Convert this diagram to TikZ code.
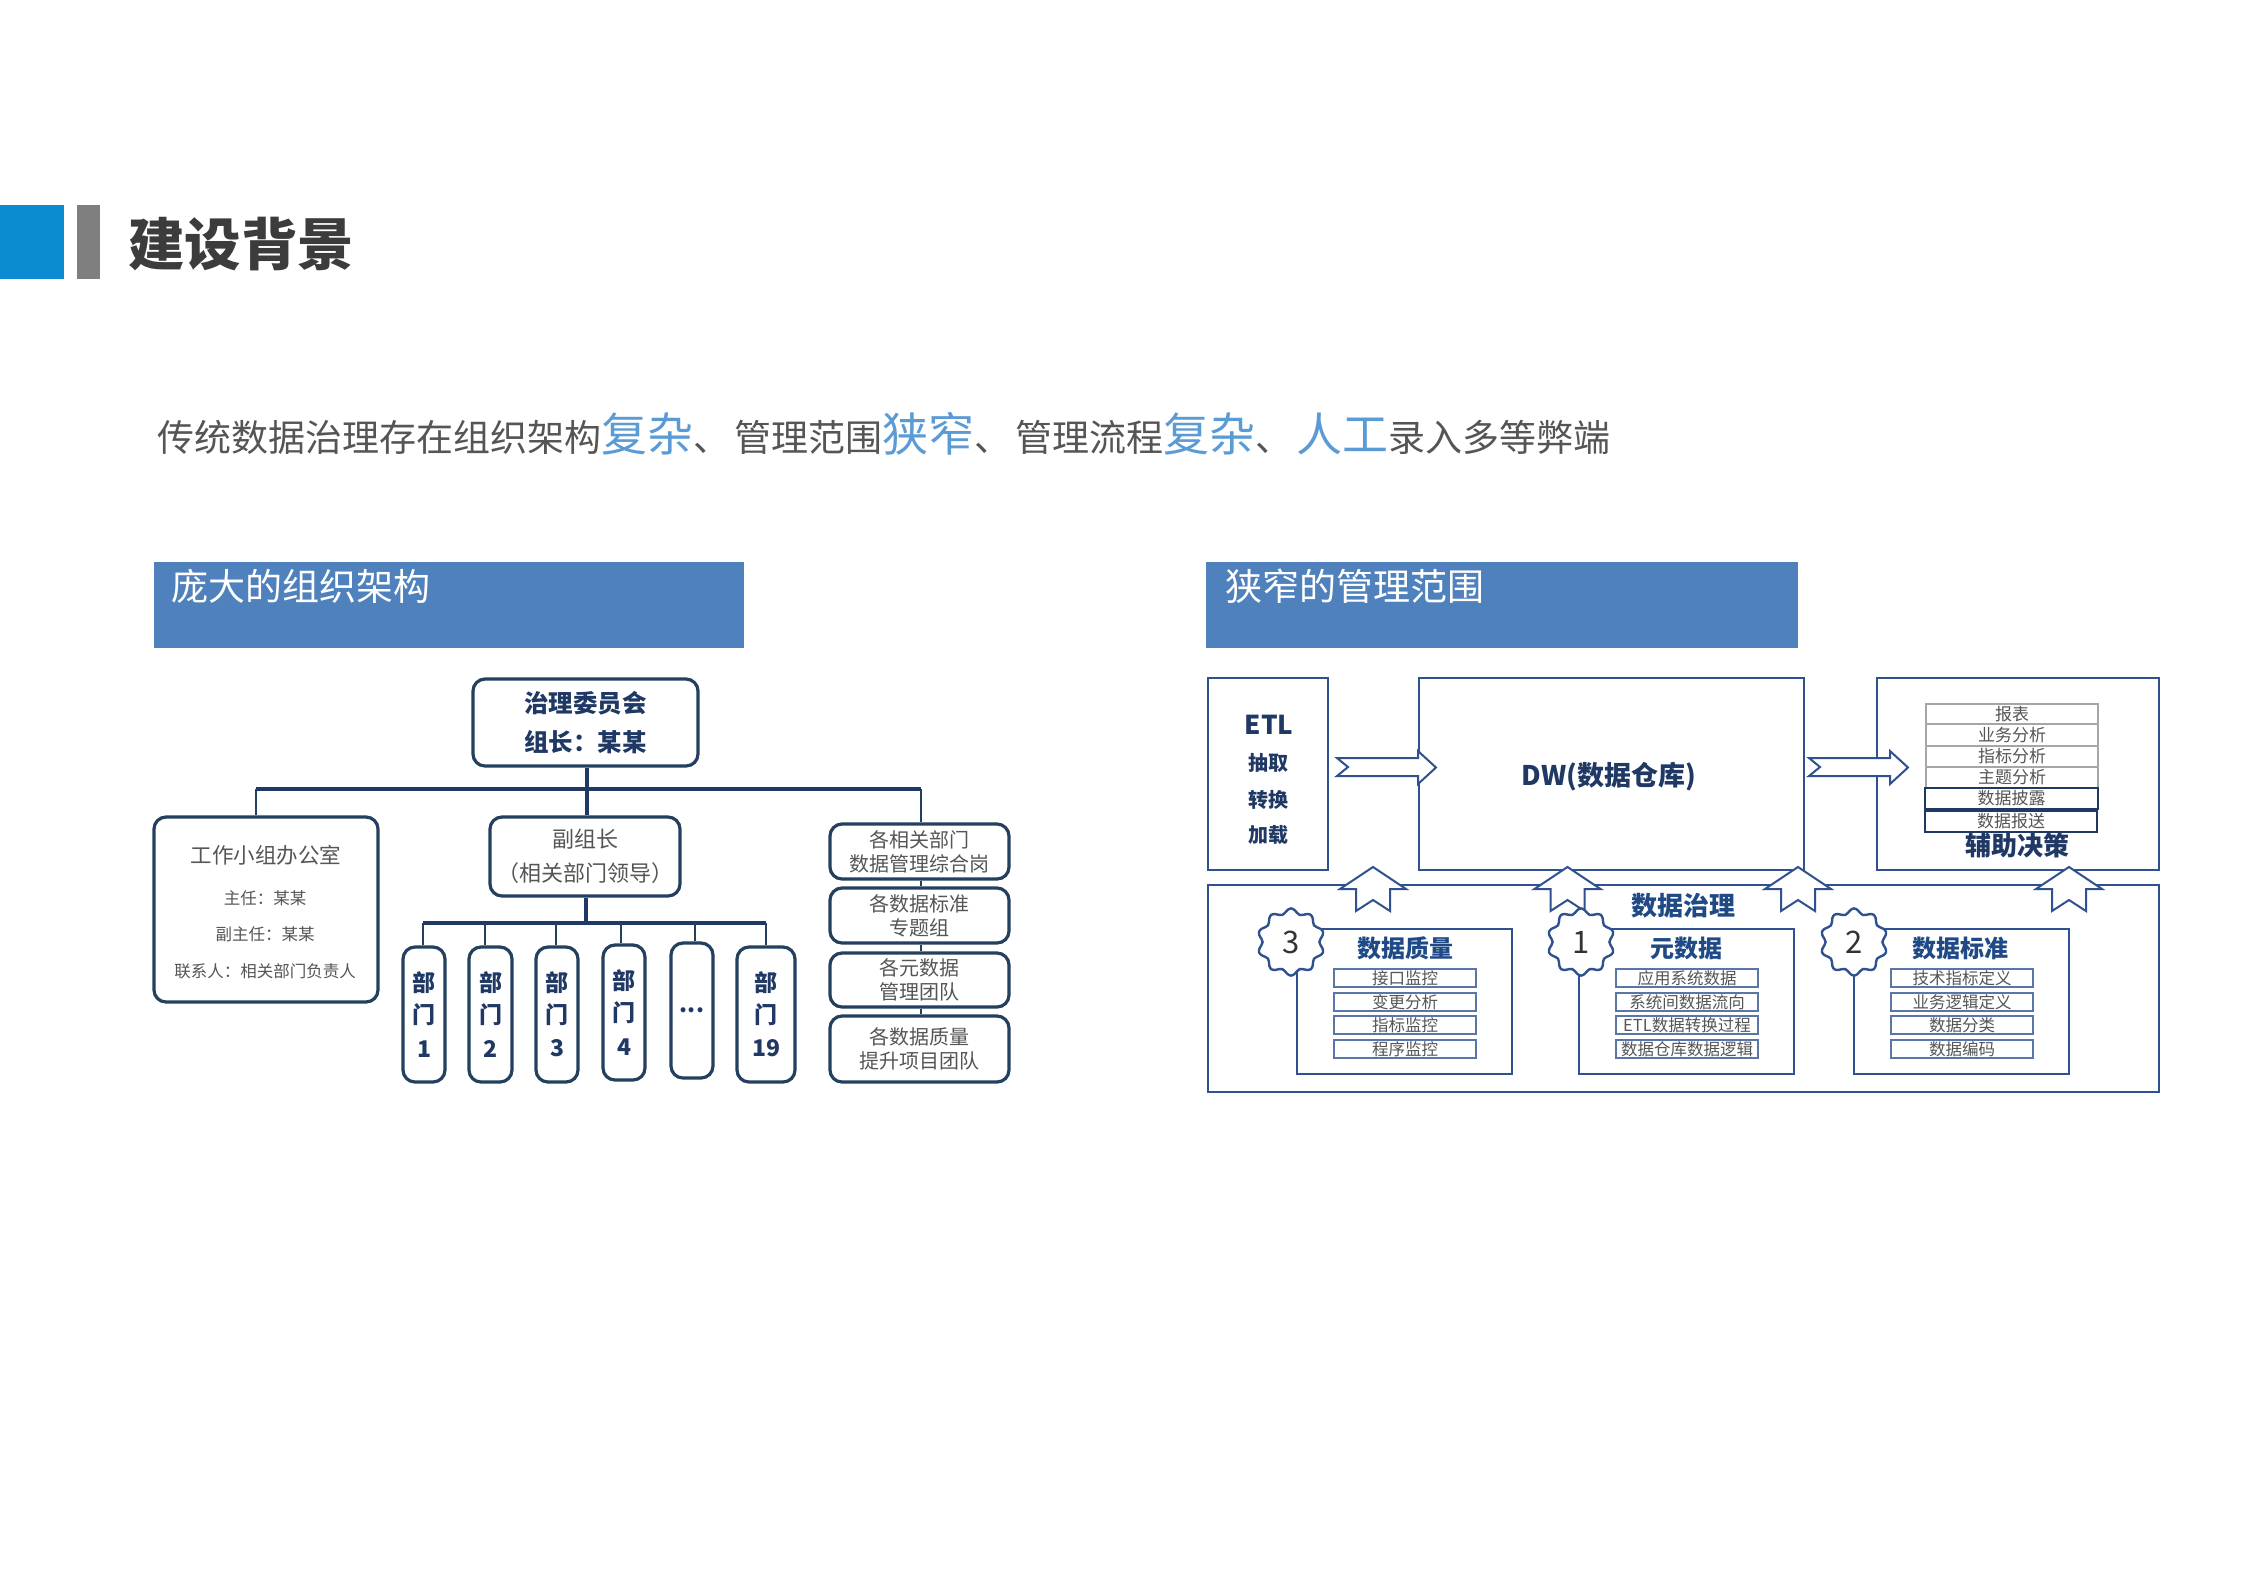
\documentclass[tikz,border=0pt]{standalone}
\usepackage{fontspec}
\setmainfont{Noto Sans CJK SC}
\usetikzlibrary{calc}
\definecolor{corpblue}{HTML}{0A8BD2}
\definecolor{bargray}{HTML}{7F7F7F}
\definecolor{titlegray}{HTML}{3C3C3C}
\definecolor{bodygray}{HTML}{555555}
\definecolor{accent}{HTML}{5B9BD5}
\definecolor{headblue}{HTML}{4F81BD}
\definecolor{navy}{HTML}{1F3864}
\definecolor{orgdark}{HTML}{24405F}
\definecolor{boxblue}{HTML}{2F5190}
\definecolor{thinblue}{HTML}{5A76A8}
\definecolor{headtext}{HTML}{1F4A86}
\newcommand{\px}[1]{\fontsize{\fpeval{#1/2}pt}{\fpeval{#1*0.6}pt}\selectfont}
\newcommand{\ubox}[6]{% name x1 y1 x2 y2 style
  \node[#6,minimum width={(#4-#2)*0.5pt},minimum height={(#5-#3)*0.5pt}] (#1) at ({(#2+#4)/2},{(#3+#5)/2})}
\tikzset{
  org/.style={draw=orgdark,line width=1.6pt,rounded corners=6pt,fill=white,inner sep=0pt,align=center,text=bodygray,font=\px{20}},
  orgb/.style={org,text=navy,font=\bfseries\px{23}},
  orgbus/.style={draw=navy,line width=1.6pt},
  orgthin/.style={draw=orgdark,line width=1.1pt},
  square/.style={draw=boxblue,line width=1.4pt,fill=white,inner sep=0pt,align=center},
  row/.style={draw=thinblue,line width=0.8pt,fill=white,inner sep=0pt,text=bodygray,font=\px{16.5}},
  stackrow/.style={draw=gray!70,line width=0.7pt,fill=white,inner sep=0pt,text=bodygray,font=\px{17}},
  stackdark/.style={draw=navy,line width=1pt,fill=none,inner sep=0pt,text=bodygray,font=\px{17}},
  blockarrow/.style={draw=boxblue,line width=1pt,fill=white},
  seal/.style={draw=boxblue,line width=1.2pt,fill=white},
  headbar/.style={fill=headblue,inner sep=0pt},
  headtxt/.style={text=white,font=\px{37},inner sep=0pt},
  bluehead/.style={text=headtext,font=\bfseries\px{24},inner sep=0pt},
  plain/.style={inner sep=0pt,align=center},
}
\newcommand{\rarrow}[2]{% tail x, tip x
  \draw[blockarrow] (#1,758) -- ({#2-18},758) -- ({#2-18},751) -- (#2,767.5) -- ({#2-18},784) -- ({#2-18},776)
    -- (#1,776) -- ({#1+11},767) -- cycle;}
\newcommand{\uarrow}[1]{% centre x
  \draw[blockarrow] (#1,867) -- ({#1+33},889) -- ({#1+17},889) -- ({#1+17},911) -- (#1,900)
    -- ({#1-17},911) -- ({#1-17},889) -- ({#1-33},889) -- cycle;}
\newcommand{\sealshape}[3]{% x y number
  \draw[seal] plot[smooth cycle,samples at={0,6,...,354}]
    ({#1+(31+2.6*cos(10*(\x-90)))*cos(\x)},{#2+(31+2.6*cos(10*(\x-90)))*sin(\x)});
  \node[plain,text=black!80,font=\px{31}] (seal#3) at (#1,#2) {#3};}
\newcommand{\bigword}[1]{{\color{accent}\px{46}#1}}
\newcommand{\dun}{、\hspace{2pt}}
\begin{document}
\begin{tikzpicture}[x=0.5pt,y=-0.5pt]
\useasboundingbox (0,0) rectangle (2245,1587);
\fill[white] (0,0) rectangle (2245,1587);
% title
\ubox{tblue}{0}{205}{64}{279}{fill=corpblue,inner sep=0pt} {};
\ubox{tbar}{77}{205}{100}{279}{fill=bargray,inner sep=0pt} {};
\node[plain,anchor=west,text=titlegray,font=\bfseries\px{56.5}] (title) at (128,244) {建设背景};
% subtitle
\node[plain,anchor=west,text=bodygray,font=\px{37}] (sub) at (157,434)
 {传统数据治理存在组织架构\bigword{复杂}\dun 管理范围\bigword{狭窄}\dun 管理流程\bigword{复杂}\dun\bigword{人工}录入多等弊端};
% panel heads
\ubox{headl}{154}{562}{744}{648}{headbar} {};
\node[headtxt,anchor=west] (headlt) at (171,586) {庞大的组织架构};
\ubox{headr}{1206}{562}{1798}{648}{headbar} {};
\node[headtxt,anchor=west] (headrt) at (1225,586) {狭窄的管理范围};
% org chart
\ubox{top}{473}{679}{698}{766}{orgb,font=\bfseries\px{24.5}} {治理委员会\\[4.5pt]组长：某某};
\ubox{office}{154}{817}{378}{1002}{org} {};
\node[plain,text=bodygray,font=\px{21.5}] (off1) at (266,855) {工作小组办公室};
\node[plain,text=bodygray,font=\px{16.5}] (off2) at (265,898) {主任：某某};
\node[plain,text=bodygray,font=\px{16.5}] (off3) at (265,934) {副主任：某某};
\node[plain,text=bodygray,font=\px{16.5}] (off4) at (265,971) {联系人：相关部门负责人};
\ubox{vice}{490}{817}{680}{896}{org,font=\px{22}} {副组长\\[4pt]（相关部门领导）};
\ubox{d1}{403}{947}{445}{1082}{orgb} {部\\[2pt]门\\[3pt]1};
\ubox{d2}{469}{947}{512}{1082}{orgb} {部\\[2pt]门\\[3pt]2};
\ubox{d3}{536}{947}{578}{1082}{orgb} {部\\[2pt]门\\[3pt]3};
\ubox{d4}{603}{945}{645}{1080}{orgb} {部\\[2pt]门\\[3pt]4};
\ubox{d5}{671}{943}{713}{1078}{orgb} {...};
\ubox{d6}{737}{947}{795}{1082}{orgb} {部\\[2pt]门\\[3pt]19};
\ubox{ra}{830}{824}{1009}{879}{org} {各相关部门\\数据管理综合岗};
\ubox{rb}{830}{888}{1009}{943}{org} {各数据标准\\专题组};
\ubox{rc}{830}{953}{1009}{1007}{org} {各元数据\\管理团队};
\ubox{rd}{830}{1016}{1009}{1082}{org} {各数据质量\\提升项目团队};
\coordinate (bus) at (587,789);
\coordinate (busl) at (256,789);
\coordinate (busr) at (921,789);
\coordinate (sbus) at (586,923);
\coordinate (j1) at (423,923);
\coordinate (j2) at (485,923);
\coordinate (j3) at (556,923);
\coordinate (j4) at (621,923);
\coordinate (j5) at (695,923);
\coordinate (j6) at (766,923);
\draw[orgbus] (bus |- top.south) -- (bus |- vice.north);
\draw[orgbus] (busl) -- (busr);
\draw[orgthin] (busl) -- (busl |- office.north);
\draw[orgthin] (busr) -- (busr |- ra.north);
\draw[orgbus] (sbus |- vice.south) -- (sbus);
\draw[orgbus] (j1) -- (j6);
\foreach \j/\d in {j1/d1,j2/d2,j3/d3,j4/d4,j5/d5,j6/d6}{
  \draw[orgthin] (\j) -- (\j |- \d.north);}
\draw[orgthin] (busr |- ra.south) -- (busr |- rb.north);
\draw[orgthin] (busr |- rb.south) -- (busr |- rc.north);
\draw[orgthin] (busr |- rc.south) -- (busr |- rd.north);
% right: upper boxes
\ubox{etl}{1208}{678}{1328}{870}{square} {};
\node[plain,text=navy,font=\bfseries\px{26}] (etl1) at (1269,725) {ETL};
\node[plain,text=navy,font=\bfseries\px{20}] (etl2) at (1268,763) {抽取};
\node[plain,text=navy,font=\bfseries\px{20}] (etl3) at (1268,800) {转换};
\node[plain,text=navy,font=\bfseries\px{20}] (etl4) at (1268,835) {加载};
\ubox{dw}{1419}{678}{1804}{870}{square} {};
\node[plain,text=navy,font=\bfseries\px{27}] (dwt) at (1609,777) {DW(数据仓库)};
\ubox{dec}{1877}{678}{2159}{870}{square} {};
\ubox{s1}{1926}{704}{2098}{724}{stackrow} {报表};
\ubox{s2}{1926}{724}{2098}{746}{stackrow} {业务分析};
\ubox{s3}{1926}{746}{2098}{767}{stackrow} {指标分析};
\ubox{s4}{1926}{767}{2098}{788}{stackrow} {主题分析};
\ubox{s5}{1925}{788}{2098}{809}{stackdark} {数据披露};
\ubox{s6}{1925}{811}{2097}{832}{stackdark} {数据报送};
\node[plain,text=navy,font=\bfseries\px{26}] (dect) at (2017,846) {辅助决策};
\rarrow{1337}{1436}
\rarrow{1809}{1908}
% governance
\ubox{gov}{1208}{885}{2159}{1092}{square,fill=none} {};
\uarrow{1373}
\uarrow{1567.5}
\uarrow{1798}
\uarrow{2069}
\node[plain,bluehead,font=\bfseries\px{26}] (govt) at (1683,906) {数据治理};
\ubox{p3}{1297}{929}{1512}{1074}{square} {};
\ubox{p1}{1579}{929}{1794}{1074}{square} {};
\ubox{p2}{1854}{929}{2069}{1074}{square} {};
\sealshape{1291}{942}{3}
\sealshape{1581}{942}{1}
\sealshape{1854}{942}{2}
\node[bluehead] (p3t) at (1405,948) {数据质量};
\node[bluehead] (p1t) at (1686,948) {元数据};
\node[bluehead] (p2t) at (1960,948) {数据标准};
\ubox{a1}{1334}{969}{1476}{987}{row} {接口监控};
\ubox{a2}{1334}{993}{1476}{1011}{row} {变更分析};
\ubox{a3}{1334}{1016}{1476}{1034}{row} {指标监控};
\ubox{a4}{1334}{1040}{1476}{1058}{row} {程序监控};
\ubox{b1}{1616}{969}{1758}{987}{row} {应用系统数据};
\ubox{b2}{1616}{993}{1758}{1011}{row} {系统间数据流向};
\ubox{b3}{1616}{1016}{1758}{1034}{row} {ETL数据转换过程};
\ubox{b4}{1616}{1040}{1758}{1058}{row} {数据仓库数据逻辑};
\ubox{c1}{1891}{969}{2033}{987}{row} {技术指标定义};
\ubox{c2}{1891}{993}{2033}{1011}{row} {业务逻辑定义};
\ubox{c3}{1891}{1016}{2033}{1034}{row} {数据分类};
\ubox{c4}{1891}{1040}{2033}{1058}{row} {数据编码};
\end{tikzpicture}
\end{document}
